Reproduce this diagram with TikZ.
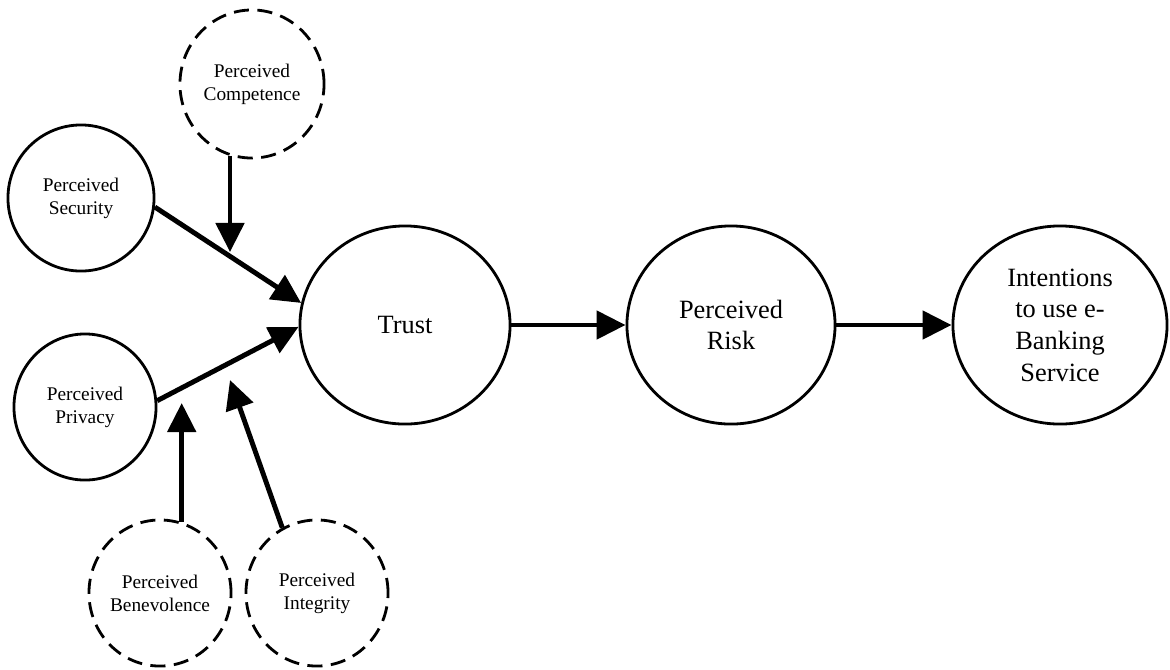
\documentclass[tikz,border=0pt]{standalone}
\usepackage{fontspec}
\setmainfont{Liberation Serif}
\usetikzlibrary{shapes.geometric,arrows.meta}
\begin{document}
\begin{tikzpicture}[x=0.01cm,y=-0.01cm,
  bigc/.style={draw,ellipse,line width=0.8pt,inner sep=0pt,align=center,
    font=\fontsize{7.5}{9}\selectfont},
  smallc/.style={draw,ellipse,line width=0.8pt,inner sep=0pt,align=center,
    font=\fontsize{5.5}{6.6}\selectfont},
  dashc/.style={smallc,dash pattern=on 4.3pt off 2.4pt},
  arr/.style={line width=1.4pt,-{Triangle[length=0.29cm,width=0.28cm]}}]
\useasboundingbox (0,0) rectangle (1170,669);
% nodes
\node[dashc,minimum width=1.44cm,minimum height=1.48cm] (comp) at (252,84) {Perceived\\Competence};
\node[smallc,minimum width=1.46cm,minimum height=1.46cm] (sec) at (81,198) {Perceived\\Security};
\node[smallc,minimum width=1.42cm,minimum height=1.46cm] (priv) at (85,407) {Perceived\\Privacy};
\node[dashc,minimum width=1.42cm,minimum height=1.46cm] (ben) at (160,593) {Perceived\\Benevolence};
\node[dashc,minimum width=1.42cm,minimum height=1.46cm] (integ) at (317,593) {Perceived\\Integrity};
\node[bigc,minimum width=2.1cm,minimum height=1.98cm] (trust) at (405,325) {Trust};
\node[bigc,minimum width=2.08cm,minimum height=1.98cm] (risk) at (731,325) {Perceived\\Risk};
\node[bigc,minimum width=2.14cm,minimum height=1.98cm] (intent) at (1060,325) {Intentions\\to use e-\\Banking\\Service};
% free ends of moderator arrows
\coordinate (comptip) at (230,252);
\coordinate (bentip) at (183,403);
\coordinate (integtip) at (230,380);
% connectors
\draw[arr] (sec.-7) -- (trust.168);
\draw[arr] (priv.5) -- (trust.181);
\draw[arr] (comp.-107) -- (comp.-107 |- comptip);
\draw[arr] (ben.73) -- (ben.73 |- bentip);
\draw[arr] (integ.118) -- (integtip);
\draw[arr] (trust.east) -- (risk.west);
\draw[arr] (risk.east) -- (intent.west);
\end{tikzpicture}
\end{document}
